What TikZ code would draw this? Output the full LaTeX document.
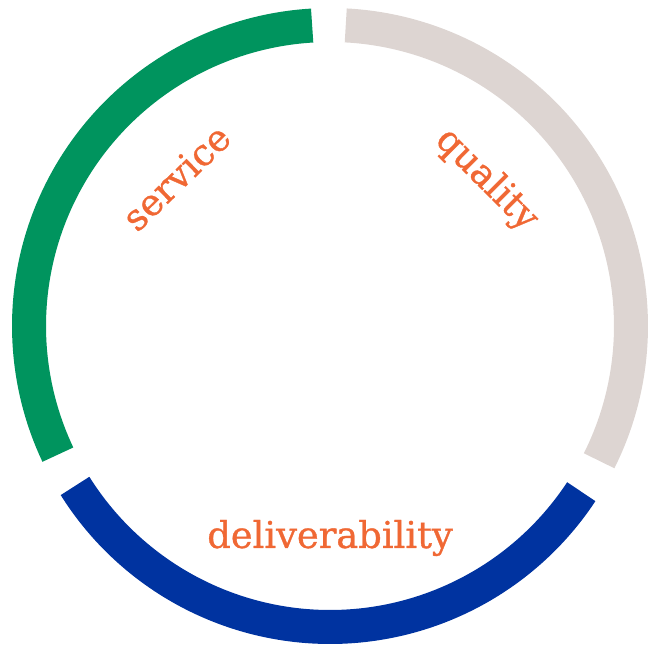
\documentclass[tikz,border=0pt]{standalone}
\usepackage{fontspec}
\setmainfont{DejaVu Serif}
\newfontfamily\ringlabelfont{DejaVu Serif}[FakeBold=0.9]
\usetikzlibrary{positioning}
\definecolor{ringgreen}{RGB}{0,148,94}
\definecolor{ringgrey}{RGB}{221,213,210}
\definecolor{ringblue}{RGB}{0,51,160}
\definecolor{labelorange}{RGB}{240,104,52}
\tikzstyle{segment} = [line width=17pt]
\tikzstyle{keyword} = [font=\ringlabelfont\fontsize{18.4}{18.4}\selectfont, text=labelorange, inner sep=0pt]

\begin{document}
\begin{tikzpicture}[x=0.5pt, y=0.5pt]
		\useasboundingbox (-330,-323) rectangle (318,326);
		% Ring
		\draw[segment, ringgreen] (93.4:301) arc[start angle=93.4, end angle=205.3, radius=301];
		\draw[segment, ringblue] (212.1:301) arc[start angle=212.1, end angle=326.6, radius=301];
		\draw[segment, ringgrey] (-26.6:301) arc[start angle=-26.6, end angle=87, radius=301];
		% Labels
		\node[keyword, rotate=44] (service) at (136:214) {service};
		\node[keyword, rotate=-45] (quality) at (43:214) {quality};
		\node[keyword] (deliverability) at (270:212) {deliverability};
	\end{tikzpicture}
\end{document}
